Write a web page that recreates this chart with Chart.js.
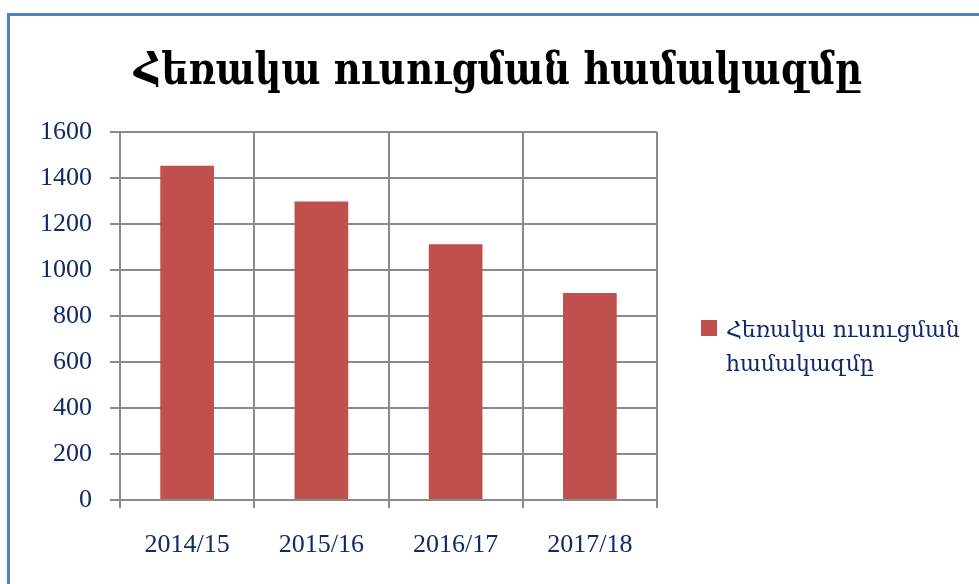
<!DOCTYPE html>
<html>
<head>
<meta charset="utf-8">
<script src="https://cdn.jsdelivr.net/npm/chart.js@4.4.0/dist/chart.umd.min.js"></script>
<style>
  html, body { margin: 0; padding: 0; background: #fff; }
  #wrap { position: relative; width: 979px; height: 584px; overflow: hidden; }
  #frame { position: absolute; left: 7px; top: 13px; width: 1000px; height: 600px;
           border-left: 3px solid #4f81bd; border-top: 3px solid #4f81bd; }
  canvas { position: absolute; left: 0; top: 0; }
</style>
</head>
<body>
<div id="wrap">
  <div id="frame"></div>
  <canvas id="chart" width="979" height="584"></canvas>
</div>
<script>
// chart data
const chartTitle = 'Հեռակա ուսուցման համակազմը';
const seasons = ['2014/15', '2015/16', '2016/17', '2017/18'];
const students = [1453, 1298, 1112, 900];
const yTicks = [0, 200, 400, 600, 800, 1000, 1200, 1400, 1600];

const textColor = '#0f2a66';
const gridColor = '#8a8a8a';
const barColor = '#c0504d';

// title centred over the whole frame + legend on the right, wrapped on two lines
const sideLegend = {
    id: 'sideLegend',
    afterDraw(chart) {
        const ctx = chart.ctx;
        const ds = chart.data.datasets[0];
        ctx.save();

        // title
        ctx.fillStyle = '#000';
        ctx.font = 'bold 37px "DejaVu Serif", serif';
        ctx.textAlign = 'center';
        ctx.textBaseline = 'alphabetic';
        ctx.save();
        ctx.translate(498, 84);
        ctx.scale(1, 1.2);
        ctx.fillText(chartTitle, 0, 0);
        ctx.restore();

        // legend
        ctx.fillStyle = ds.backgroundColor;
        ctx.fillRect(701, 320, 16, 16);
        ctx.fillStyle = textColor;
        ctx.font = '22px "DejaVu Serif", serif';
        ctx.textAlign = 'left';
        ds.legendLines.forEach((line, i) => {
            ctx.fillText(line, 726, 337 + i * 34);
        });
        ctx.restore();
    }
};

const ctx = document.getElementById('chart').getContext('2d');
window.studentsChart = new Chart(ctx, {
    type: 'bar',
    data: {
        labels: seasons,
        datasets: [{
            label: chartTitle,
            legendLines: ['Հեռակա ուսուցման', 'համակազմը'],
            data: students,
            backgroundColor: barColor,
            borderWidth: 0,
            categoryPercentage: 1.0,
            barPercentage: 0.4
        }]
    },
    options: {
        responsive: false,
        animation: false,
        layout: { padding: { left: 0, right: 322, top: 132, bottom: 0 } },
        plugins: {
            legend: { display: false },
            tooltip: { enabled: false },
            title: { display: false }
        },
        scales: {
            x: {
                afterFit(scale) { scale.height = 84; },
                grid: { color: gridColor, lineWidth: 2, offset: true, tickLength: 8 },
                border: { color: gridColor, width: 2 },
                ticks: {
                    color: textColor,
                    padding: 22,
                    font: { family: '"Liberation Serif", serif', size: 26 }
                }
            },
            y: {
                min: 0,
                max: 1600,
                afterFit(scale) { scale.width = 120; },
                afterBuildTicks(scale) { scale.ticks = yTicks.map(v => ({ value: v })); },
                grid: { color: gridColor, lineWidth: 2, tickLength: 10 },
                border: { color: gridColor, width: 2 },
                ticks: {
                    color: textColor,
                    padding: 18,
                    callback: (v) => String(v),
                    font: { family: '"Liberation Serif", serif', size: 26 }
                }
            }
        }
    },
    plugins: [sideLegend]
});
</script>
</body>
</html>
